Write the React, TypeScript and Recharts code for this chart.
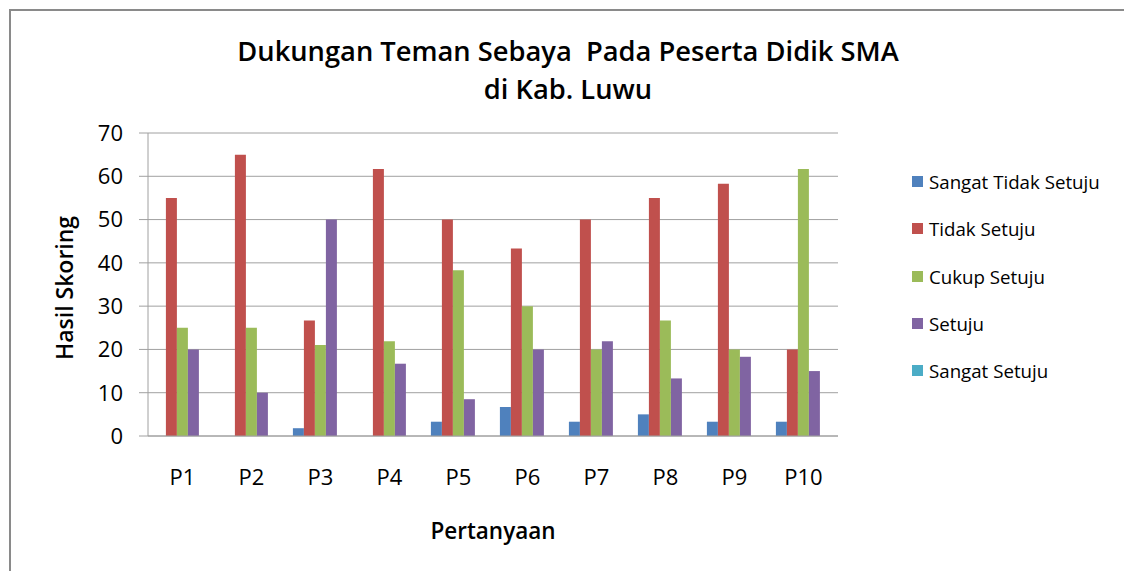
import { BarChart, Bar, XAxis, YAxis, CartesianGrid, Legend } from 'recharts'

const questions = ['P1', 'P2', 'P3', 'P4', 'P5', 'P6', 'P7', 'P8', 'P9', 'P10']
const sangatTidakSetuju = [0, 0, 1.8, 0, 3.3, 6.7, 3.3, 5, 3.3, 3.3]
const tidakSetuju = [55, 65, 26.7, 61.7, 50, 43.3, 50, 55, 58.3, 20]
const cukupSetuju = [25, 25, 21, 21.9, 38.3, 30, 20, 26.7, 20, 61.7]
const setuju = [20, 10, 50, 16.7, 8.5, 20, 21.9, 13.3, 18.3, 15]
const sangatSetuju = [0, 0, 0, 0, 0, 0, 0, 0, 0, 0]
const yTicks = [0, 10, 20, 30, 40, 50, 60, 70]

const series = [
  { key: 'sts', name: 'Sangat Tidak Setuju', color: '#4F81BD' },
  { key: 'ts', name: 'Tidak Setuju', color: '#C0504D' },
  { key: 'cs', name: 'Cukup Setuju', color: '#9BBB59' },
  { key: 's', name: 'Setuju', color: '#8064A2' },
  { key: 'ss', name: 'Sangat Setuju', color: '#4BACC6' },
]

const data = questions.map((q, i) => ({
  name: q,
  sts: sangatTidakSetuju[i],
  ts: tidakSetuju[i],
  cs: cukupSetuju[i],
  s: setuju[i],
  ss: sangatSetuju[i],
}))

const FONT = '"Open Sans", sans-serif'

function LegendBox() {
  return (
    <div style={{ fontFamily: FONT, fontSize: 18.7, color: '#000' }}>
      {series.map((s) => (
        <div key={s.key} style={{ display: 'flex', alignItems: 'center', height: 47.3 }}>
          <span style={{ width: 11, height: 11, background: s.color, marginRight: 6, display: 'inline-block' }} />
          <span>{s.name}</span>
        </div>
      ))}
    </div>
  )
}

export default function App() {
  return (
    <div style={{ position: 'absolute', left: 0, top: 0, width: 1124, height: 571, background: '#fff', overflow: 'hidden' }}>
      <div style={{ position: 'absolute', left: 9, top: 9, width: 1200, height: 700, borderTop: '2px solid #8a8a8a', borderLeft: '2px solid #8a8a8a' }} />
      <div style={{ position: 'absolute', left: 0, width: 1136, top: 32, textAlign: 'center', fontFamily: FONT, fontWeight: 600, fontSize: 27.3, lineHeight: '38px' }}>
        Dukungan Teman Sebaya&nbsp;&nbsp;Pada Peserta Didik SMA
        <br />
        di Kab. Luwu
      </div>
      <div style={{ position: 'absolute', left: 64, top: 288, transform: 'translate(-50%, -50%) rotate(-90deg)', fontFamily: FONT, fontWeight: 600, fontSize: 23, whiteSpace: 'nowrap' }}>
        Hasil Skoring
      </div>
      <div style={{ position: 'absolute', left: 493, top: 530, transform: 'translate(-50%, -50%)', fontFamily: FONT, fontWeight: 600, fontSize: 22.5, whiteSpace: 'nowrap' }}>
        Pertanyaan
      </div>
      <div style={{ position: 'absolute', left: 0, top: 0 }}>
        <BarChart
          width={1124}
          height={571}
          data={data}
          margin={{ top: 133, right: 286, left: 88, bottom: 95 }}
          barCategoryGap="10%"
          barGap={0}
        >
          <CartesianGrid vertical={false} stroke="#a0a0a0" />
          <XAxis
            dataKey="name"
            height={40}
            tickLine={false}
            tickSize={0}
            tickMargin={33}
            axisLine={{ stroke: '#a0a0a0' }}
            tick={{ fontSize: 22, fill: '#000', fontFamily: FONT }}
          />
          <YAxis
            width={60}
            domain={[0, 70]}
            ticks={yTicks}
            interval={0}
            tickSize={9}
            tickMargin={16}
            tickLine={{ stroke: '#a0a0a0' }}
            axisLine={{ stroke: '#a0a0a0' }}
            tick={{ fontSize: 22, fill: '#000', fontFamily: FONT }}
          />
          <Legend
            layout="vertical"
            align="center"
            verticalAlign="middle"
            content={() => <LegendBox />}
            wrapperStyle={{ left: 912, top: 158, width: 210 }}
          />
          {series.map((s) => (
            <Bar key={s.key} dataKey={s.key} name={s.name} fill={s.color} isAnimationActive={false} />
          ))}
        </BarChart>
      </div>
    </div>
  )
}
